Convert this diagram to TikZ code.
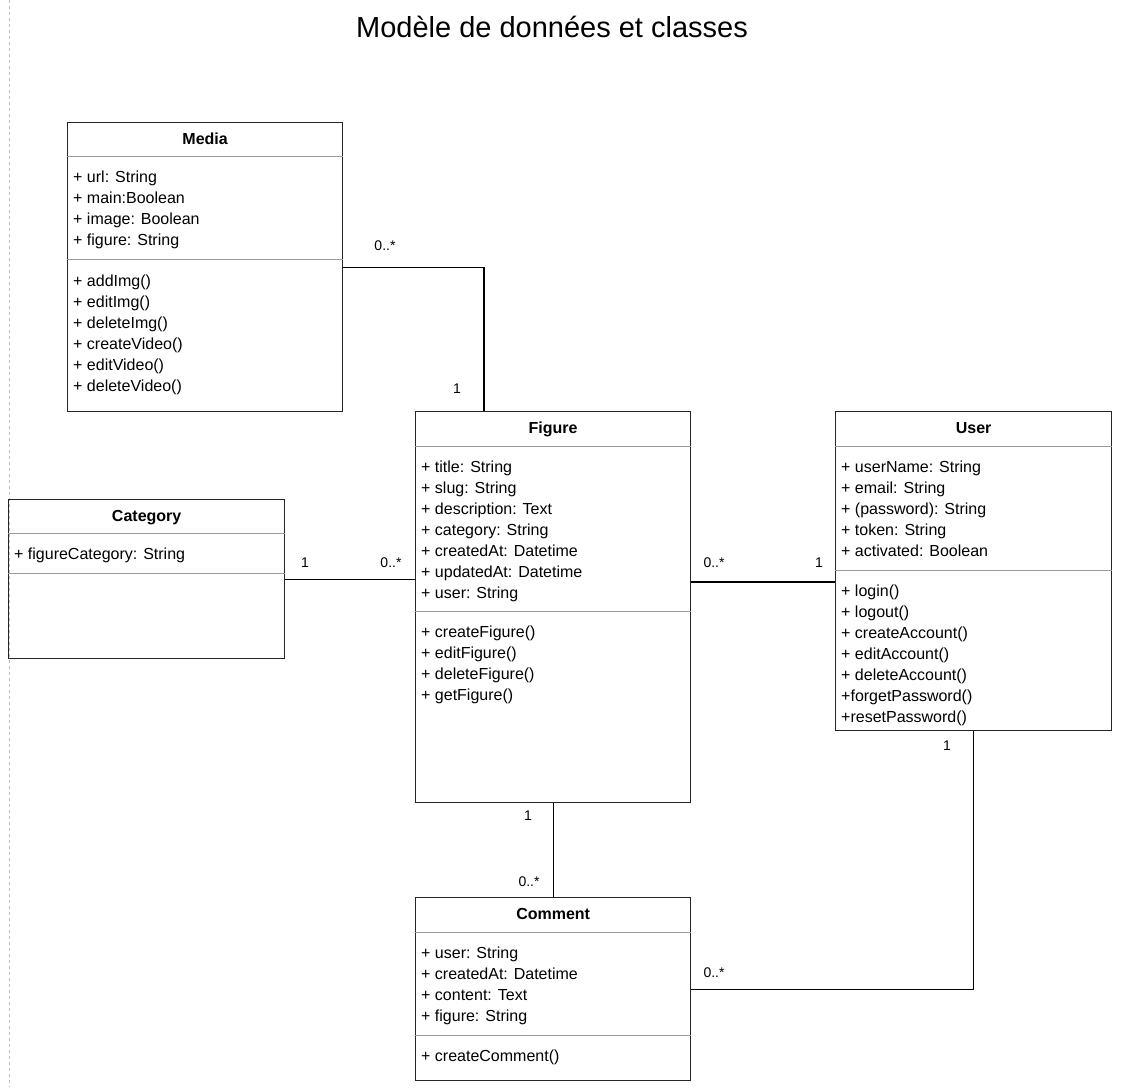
\documentclass[tikz,border=0pt]{standalone}
\usepackage{fontspec}
\setmainfont{Liberation Sans}
\usetikzlibrary{positioning}
\tikzset{
  classbox/.style  = {shape=rectangle, draw=black!85, line width=1.3pt,
                      anchor=north west, inner sep=0pt},
  classname/.style = {font=\fontsize{16}{21}\selectfont\bfseries,
                      anchor=base, inner sep=0pt},
  members/.style   = {font=\fontsize{16}{21}\selectfont, align=left,
                      anchor=north west, inner sep=0pt},
  divider/.style   = {draw=black!40, line width=1pt},
  link/.style      = {draw=black, line width=1.3pt},
  mult/.style      = {font=\fontsize{14}{16}\selectfont, inner sep=0pt}
}

\begin{document}
\begin{tikzpicture}[x=1pt, y=-1pt]
  \useasboundingbox (0,0) rectangle (1132,1087);
  \draw[black!25, dashed, line width=0.8pt] (9,0) -- (9,1087);
  \node[font=\fontsize{29}{34}\selectfont] (title) at (552,27) {Modèle de données et classes};

  % Media
  \node[classbox, minimum width=275pt, minimum height=289pt] (media) at (67,122) {};
  \node[classname] (medianame) at ([yshift=-22pt]media.north) {Media};
  \draw[divider] ([yshift=-34pt]media.north west) -- ([yshift=-34pt]media.north east);
  \node[members] (mediaattr) at ([shift={(6pt,-48.5pt)}]media.north west)
    {+ url: String\\+ main:Boolean\\+ image: Boolean\\+ figure: String};
  \draw[divider] ([yshift=-137pt]media.north west) -- ([yshift=-137pt]media.north east);
  \node[members] (mediaops) at ([shift={(6pt,-152.5pt)}]media.north west)
    {+ addImg()\\+ editImg()\\+ deleteImg()\\+ createVideo()\\+ editVideo()\\+ deleteVideo()};

  % Figure
  \node[classbox, minimum width=275pt, minimum height=391pt] (figure) at (415,411) {};
  \node[classname] (figurename) at ([yshift=-22pt]figure.north) {Figure};
  \draw[divider] ([yshift=-35pt]figure.north west) -- ([yshift=-35pt]figure.north east);
  \node[members] (figureattr) at ([shift={(6pt,-49.5pt)}]figure.north west)
    {+ title: String\\+ slug: String\\+ description: Text\\+ category: String\\+ createdAt: Datetime\\+ updatedAt: Datetime\\+ user: String};
  \draw[divider] ([yshift=-200pt]figure.north west) -- ([yshift=-200pt]figure.north east);
  \node[members] (figureops) at ([shift={(6pt,-214.5pt)}]figure.north west)
    {+ createFigure()\\+ editFigure()\\+ deleteFigure()\\+ getFigure()};

  % User
  \node[classbox, minimum width=276pt, minimum height=319pt] (user) at (835,411) {};
  \node[classname] (username) at ([yshift=-22pt]user.north) {User};
  \draw[divider] ([yshift=-35pt]user.north west) -- ([yshift=-35pt]user.north east);
  \node[members] (userattr) at ([shift={(6pt,-49.5pt)}]user.north west)
    {+ userName: String\\+ email: String\\+ (password): String\\+ token: String\\+ activated: Boolean};
  \draw[divider] ([yshift=-159pt]user.north west) -- ([yshift=-159pt]user.north east);
  \node[members] (userops) at ([shift={(6pt,-173.5pt)}]user.north west)
    {+ login()\\+ logout()\\+ createAccount()\\+ editAccount()\\+ deleteAccount()\\+forgetPassword()\\+resetPassword()};

  % Category
  \node[classbox, minimum width=276pt, minimum height=159pt] (category) at (8,499) {};
  \node[classname] (categoryname) at ([yshift=-22pt]category.north) {Category};
  \draw[divider] ([yshift=-34pt]category.north west) -- ([yshift=-34pt]category.north east);
  \node[members] (categoryattr) at ([shift={(6pt,-48.5pt)}]category.north west)
    {+ figureCategory: String};
  \draw[divider] ([yshift=-74pt]category.north west) -- ([yshift=-74pt]category.north east);

  % Comment
  \node[classbox, minimum width=275pt, minimum height=183pt] (comment) at (415,897) {};
  \node[classname] (commentname) at ([yshift=-22pt]comment.north) {Comment};
  \draw[divider] ([yshift=-35pt]comment.north west) -- ([yshift=-35pt]comment.north east);
  \node[members] (commentattr) at ([shift={(6pt,-49.5pt)}]comment.north west)
    {+ user: String\\+ createdAt: Datetime\\+ content: Text\\+ figure: String};
  \draw[divider] ([yshift=-138pt]comment.north west) -- ([yshift=-138pt]comment.north east);
  \node[members] (commentops) at ([shift={(6pt,-152.5pt)}]comment.north west)
    {+ createComment()};

  % associations
  \draw[link] (media.east) -| ([xshift=69pt]figure.north west);
  \draw[link] (category.east) -- (category.east -| figure.west);
  \draw[link] ([yshift=-171pt]figure.north east) -- ([yshift=-171pt]user.north west);
  \draw[link] (figure.south) -- (comment.north);
  \draw[link] (user.south) |- (comment.east);

  % multiplicities
  \node[mult] (mediamany)    at (385,246) {0..*};
  \node[mult] (mediaone)     at (457,389) {1};
  \node[mult] (categoryone)  at (305,563) {1};
  \node[mult] (catfigmany)   at (391,563) {0..*};
  \node[mult] (userfigmany)  at (714,563) {0..*};
  \node[mult] (userone)      at (819,563) {1};
  \node[mult] (figureone)    at (528,816) {1};
  \node[mult] (commentmany)  at (529,882) {0..*};
  \node[mult] (useronebis)   at (947,746) {1};
  \node[mult] (usercomments) at (714,973) {0..*};
\end{tikzpicture}
\end{document}
